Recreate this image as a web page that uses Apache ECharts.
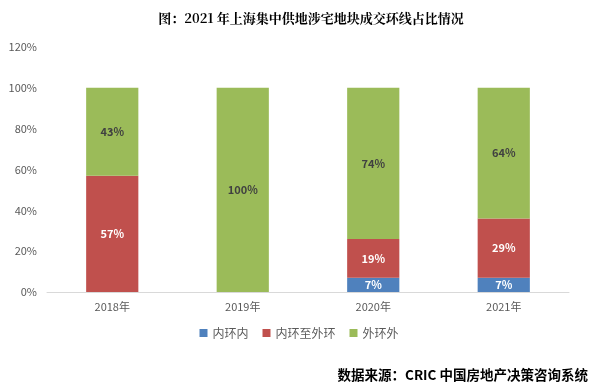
<!DOCTYPE html>
<html>
<head>
<meta charset="utf-8">
<script src="https://cdn.jsdelivr.net/npm/echarts@6/dist/echarts.min.js"></script>
<style>
html,body{margin:0;padding:0;background:#fff;}
#c{width:598px;height:387px;}
</style>
</head>
<body>
<div id="c"></div>
<script>
const categories = ['2018年', '2019年', '2020年', '2021年'];
const seriesNames = ['内环内', '内环至外环', '外环外'];
const innerRing = [0, 0, 7, 7];
const innerToOuter = [57, 0, 19, 29];
const outerRing = [43, 100, 74, 64];
const yTicks = [0, 20, 40, 60, 80, 100, 120];

const chart = echarts.init(document.getElementById('c'));
const font = '"Noto Sans CJK SC", "Noto Sans", sans-serif';
function lbl(color) {
  return {
    show: true, position: 'inside', color: color, fontWeight: 'bold',
    fontSize: 11, fontFamily: font,
    formatter: p => p.value > 0 ? p.value + '%' : ''
  };
}
chart.setOption({
  animation: false,
  title: [{
    text: '图：2021 年上海集中供地涉宅地块成交环线占比情况',
    left: 306, top: 7, textAlign: 'center',
    textStyle: { fontSize: 13, fontWeight: 'bold', color: '#000', fontFamily: '"Noto Serif CJK SC", "Noto Sans CJK SC", serif' }
  }, {
    text: '数据来源：CRIC 中国房地产决策咨询系统',
    right: 5, top: 363,
    textStyle: { fontSize: 13.5, fontWeight: 'bold', color: '#000', fontFamily: font }
  }],
  legend: {
    data: seriesNames, bottom: 43, left: 'center',
    itemWidth: 8, itemHeight: 8, itemGap: 14, icon: 'rect',
    textStyle: { fontSize: 12, color: '#595959', fontFamily: font }
  },
  grid: { left: 47, right: 29, top: 47, bottom: 95 },
  xAxis: {
    type: 'category', data: categories,
    axisLine: { lineStyle: { color: '#d9d9d9' } },
    axisTick: { show: false },
    axisLabel: { color: '#595959', fontSize: 11, fontFamily: font, margin: 9 }
  },
  yAxis: {
    type: 'value', min: 0, max: 120, interval: 20,
    axisLine: { show: false }, axisTick: { show: false },
    splitLine: { show: false },
    axisLabel: { color: '#595959', fontSize: 11, fontFamily: font, formatter: '{value}%', margin: 10 }
  },
  series: [
    { name: seriesNames[0], type: 'bar', stack: 's', data: innerRing, barWidth: '40%', itemStyle: { color: '#4F81BD' }, label: lbl('#fff') },
    { name: seriesNames[1], type: 'bar', stack: 's', data: innerToOuter, barWidth: '40%', itemStyle: { color: '#C0504D' }, label: lbl('#fff') },
    { name: seriesNames[2], type: 'bar', stack: 's', data: outerRing, barWidth: '40%', itemStyle: { color: '#9BBB59' }, label: lbl('#404040') }
  ]
});
</script>
</body>
</html>
